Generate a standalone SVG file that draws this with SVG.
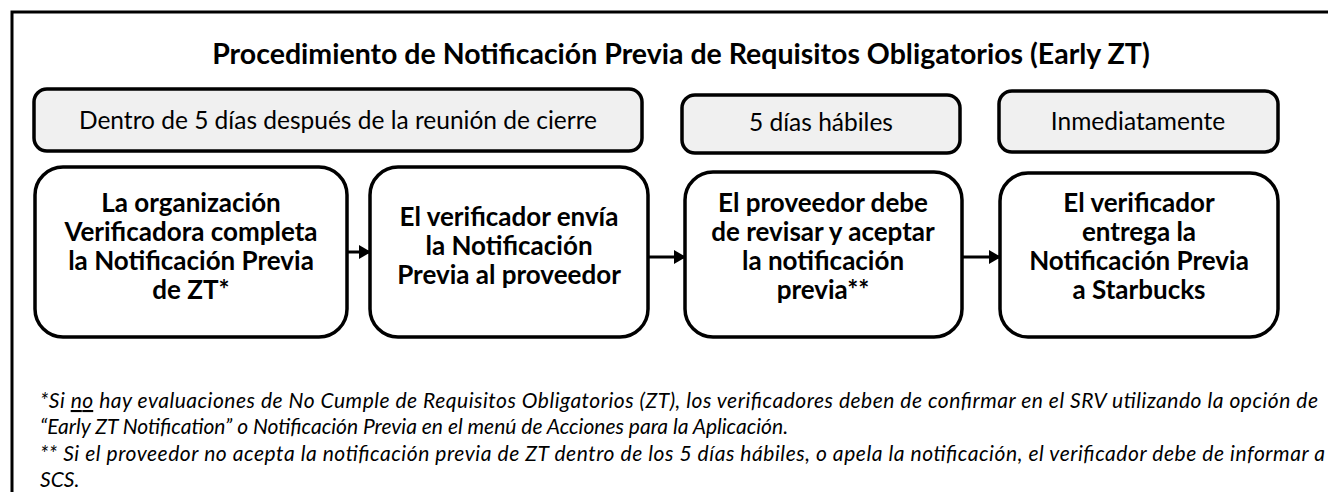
<svg xmlns="http://www.w3.org/2000/svg" width="1328" height="492" viewBox="0 0 1328 492">
<defs>
<style>
.frame{fill:#fff;stroke:#000;stroke-width:3}
.tbox{fill:#f0f0f0;stroke:#000;stroke-width:3.5}
.sbox{fill:#fff;stroke:#000;stroke-width:3.5}
.title{font-family:Lato,"Open Sans","Liberation Sans",sans-serif;font-weight:700;font-size:28.5px;fill:#000;text-anchor:middle}
.ttxt{font-family:Lato,"Open Sans","Liberation Sans",sans-serif;font-size:24.5px;fill:#000;text-anchor:middle}
.stxt{font-family:Lato,"Open Sans","Liberation Sans",sans-serif;font-weight:700;font-size:26px;fill:#000;text-anchor:middle}
.note{font-family:Lato,"Open Sans","Liberation Sans",sans-serif;font-style:italic;font-size:21px;fill:#000}
.conn{stroke:#000;stroke-width:3;fill:none}
</style>
<marker id="arr" markerWidth="12" markerHeight="14" refX="11" refY="7" orient="auto" markerUnits="userSpaceOnUse">
<path d="M0,0 L12,7 L0,14 Z" fill="#000"/>
</marker>
</defs>
<rect width="1328" height="492" fill="#fff"/>
<rect class="frame" x="12" y="12" width="1340" height="500"/>
<text id="title" class="title" x="681" y="64">Procedimiento de Notificación Previa de Requisitos Obligatorios (Early ZT)</text>

<g id="t1"><rect class="tbox" x="34" y="89" width="608" height="62" rx="13"/><text class="ttxt" x="338" y="129">Dentro de 5 días después de la reunión de cierre</text></g>
<g id="t2"><rect class="tbox" x="682" y="95" width="278" height="58" rx="13"/><text class="ttxt" x="821" y="131">5 días hábiles</text></g>
<g id="t3"><rect class="tbox" x="999" y="91" width="279" height="61" rx="13"/><text class="ttxt" x="1138" y="130">Inmediatamente</text></g>

<g id="s1"><rect class="sbox" x="35" y="167" width="312" height="170" rx="28"/>
<text class="stxt"><tspan x="191" y="212">La organización</tspan><tspan x="191" y="241">Verificadora completa</tspan><tspan x="191" y="270">la Notificación Previa</tspan><tspan x="191" y="299">de ZT*</tspan></text></g>
<g id="s2"><rect class="sbox" x="370" y="167" width="278" height="170" rx="28"/>
<text class="stxt"><tspan x="509" y="226">El verificador envía</tspan><tspan x="509" y="255">la Notificación</tspan><tspan x="509" y="284">Previa al proveedor</tspan></text></g>
<g id="s3"><rect class="sbox" x="685" y="172" width="277" height="165" rx="28"/>
<text class="stxt"><tspan x="823" y="212">El proveedor debe</tspan><tspan x="823" y="241">de revisar y aceptar</tspan><tspan x="823" y="270">la notificación</tspan><tspan x="823" y="299">previa**</tspan></text></g>
<g id="s4"><rect class="sbox" x="1000" y="173" width="278" height="164" rx="28"/>
<text class="stxt"><tspan x="1139" y="212">El verificador</tspan><tspan x="1139" y="241">entrega la</tspan><tspan x="1139" y="270">Notificación Previa</tspan><tspan x="1139" y="299">a Starbucks</tspan></text></g>

<g id="connectors">
<line class="conn" x1="347" y1="252" x2="370" y2="252" marker-end="url(#arr)"/>
<line class="conn" x1="648" y1="257" x2="685" y2="257" marker-end="url(#arr)"/>
<line class="conn" x1="962" y1="257" x2="1000" y2="257" marker-end="url(#arr)"/>
</g>

<g id="notes">
<text class="note" x="40" y="408" textLength="1278">*Si <tspan text-decoration="underline">no</tspan> hay evaluaciones de No Cumple de Requisitos Obligatorios (ZT), los verificadores deben de confirmar en el SRV utilizando la opción de</text>
<text class="note" x="40" y="434">“Early ZT Notification” o Notificación Previa en el menú de Acciones para la Aplicación.</text>
<text class="note" x="40" y="461" textLength="1285">** Si el proveedor no acepta la notificación previa de ZT dentro de los 5 días hábiles, o apela la notificación, el verificador debe de informar a</text>
<text class="note" x="40" y="487">SCS.</text>
</g>
</svg>
